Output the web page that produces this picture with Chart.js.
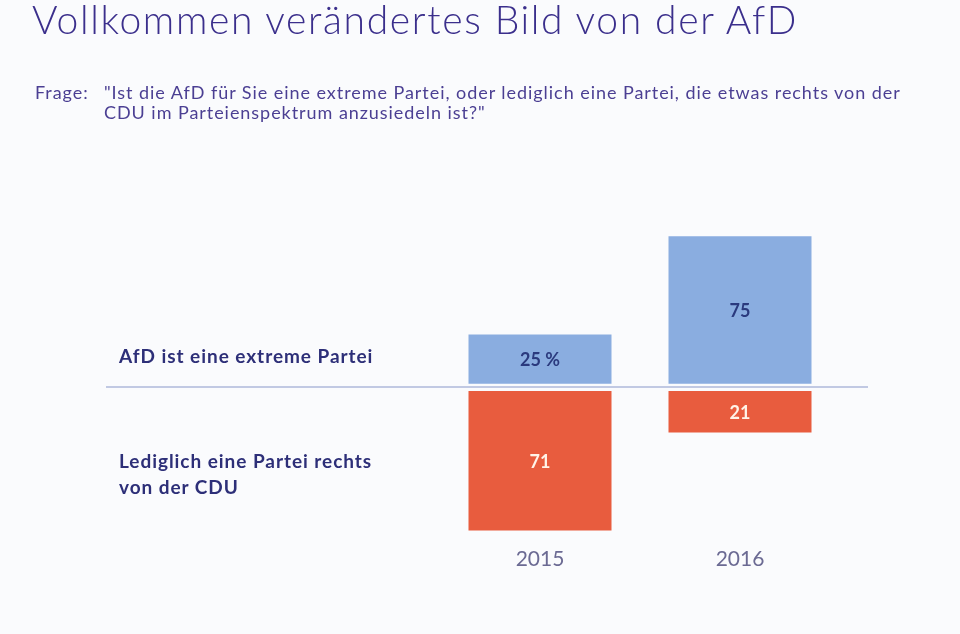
<html>
<head>
  <meta charset="utf-8">
  <title>AfD</title>
  <script src="https://cdn.jsdelivr.net/npm/chart.js"></script>
  <style>
    body { margin: 0; background: #fafbfd; font-family: Lato, "Open Sans", sans-serif; }
    #wrap { position: relative; width: 960px; height: 634px; overflow: hidden; }
    #chart { position: absolute; left: 0; top: 0; }
    .txt { position: absolute; white-space: nowrap; }
    #title { left: 32px; top: -4px; font-size: 39px; font-weight: 300; letter-spacing: 1.65px; color: #3b2f8c; }
    #frage { left: 35px; top: 82px; font-size: 18px; line-height: 20px; letter-spacing: 0.95px; color: #4b3f93; }
    #question { left: 104px; top: 82px; font-size: 18px; line-height: 20px; letter-spacing: 0.95px; color: #4b3f93; }
    .row { left: 119px; font-size: 19px; line-height: 26px; font-weight: 700; letter-spacing: 0.95px; color: #2d2f78; }
  </style>
</head>
<body>
  <div id="wrap">
    <canvas id="chart" width="960" height="634"></canvas>
    <div id="title" class="txt"></div>
    <div id="frage" class="txt"></div>
    <div id="question" class="txt"></div>
    <div id="row0" class="txt row" style="top: 343px;"></div>
    <div id="row1" class="txt row" style="top: 448px;"></div>
  </div>

  <script>
    // texts
    const titleText = 'Vollkommen verändertes Bild von der AfD';
    const frageText = 'Frage:';
    const questionLines = [
      '"Ist die AfD für Sie eine extreme Partei, oder lediglich eine Partei, die etwas rechts von der',
      'CDU im Parteienspektrum anzusiedeln ist?"'
    ];
    const rowLabels = [
      ['AfD ist eine extreme Partei'],
      ['Lediglich eine Partei rechts', 'von der CDU']
    ];

    // data (percent)
    const years = ['2015', '2016'];
    const extremeValues = [25, 75];
    const rightOfCduValues = [71, 21];

    document.getElementById('title').textContent = titleText;
    document.getElementById('frage').textContent = frageText;
    document.getElementById('question').innerHTML = questionLines.join('<br>');
    rowLabels.forEach((lines, i) => {
      document.getElementById('row' + i).innerHTML = lines.join('<br>');
    });

    // line through the middle, wider than the bars
    const zeroLine = {
      id: 'zeroLine',
      afterDatasetsDraw(chart) {
        const up = chart.scales.yUp.getPixelForValue(0);
        const down = chart.scales.yDown.getPixelForValue(0);
        const y = (up + down) / 2 - 0.5;
        const ctx = chart.ctx;
        ctx.save();
        ctx.strokeStyle = '#aeb8da';
        ctx.lineWidth = 1.5;
        ctx.beginPath();
        ctx.moveTo(106, y);
        ctx.lineTo(868, y);
        ctx.stroke();
        ctx.restore();
      }
    };

    // value labels inside the bars
    const barLabels = {
      id: 'barLabels',
      afterDatasetsDraw(chart) {
        const ctx = chart.ctx;
        ctx.save();
        ctx.font = 'bold 18px Lato, sans-serif';
        ctx.textAlign = 'center';
        ctx.textBaseline = 'middle';
        chart.data.datasets.forEach((ds, i) => {
          const meta = chart.getDatasetMeta(i);
          meta.data.forEach((bar, j) => {
            const p = bar.getProps(['x', 'y', 'base'], true);
            let text = String(ds.data[j]);
            if (i === 0 && j === 0) text += ' %';
            ctx.fillStyle = ds.labelColor;
            ctx.fillText(text, p.x, (p.y + p.base) / 2 + 1);
          });
        });
        ctx.restore();
      }
    };

    new Chart(document.getElementById('chart'), {
      type: 'bar',
      data: {
        labels: years,
        datasets: [
          {
            label: 'AfD ist eine extreme Partei',
            data: extremeValues,
            yAxisID: 'yUp',
            backgroundColor: '#8aade0',
            labelColor: '#2b3a7e'
          },
          {
            label: 'Lediglich eine Partei rechts von der CDU',
            data: rightOfCduValues,
            yAxisID: 'yDown',
            backgroundColor: '#e85c3e',
            labelColor: '#fff3e8'
          }
        ]
      },
      options: {
        responsive: false,
        animation: false,
        layout: { padding: { left: 440, right: 120, top: 220, bottom: 56 } },
        datasets: {
          bar: { grouped: false, categoryPercentage: 1, barPercentage: 0.715, borderWidth: 0 }
        },
        plugins: {
          legend: { display: false },
          tooltip: { enabled: false }
        },
        scales: {
          x: {
            grid: { display: false, drawTicks: false },
            border: { display: false },
            ticks: { color: '#6b6a93', font: { family: 'Lato, sans-serif', size: 21 }, padding: 6 }
          },
          yUp: {
            type: 'linear',
            display: false,
            min: -79.97,
            max: 83.3
          },
          yDown: {
            type: 'linear',
            display: false,
            reverse: true,
            min: -87.09,
            max: 76.18
          }
        }
      },
      plugins: [zeroLine, barLabels]
    });
  </script>
</body>
</html>
